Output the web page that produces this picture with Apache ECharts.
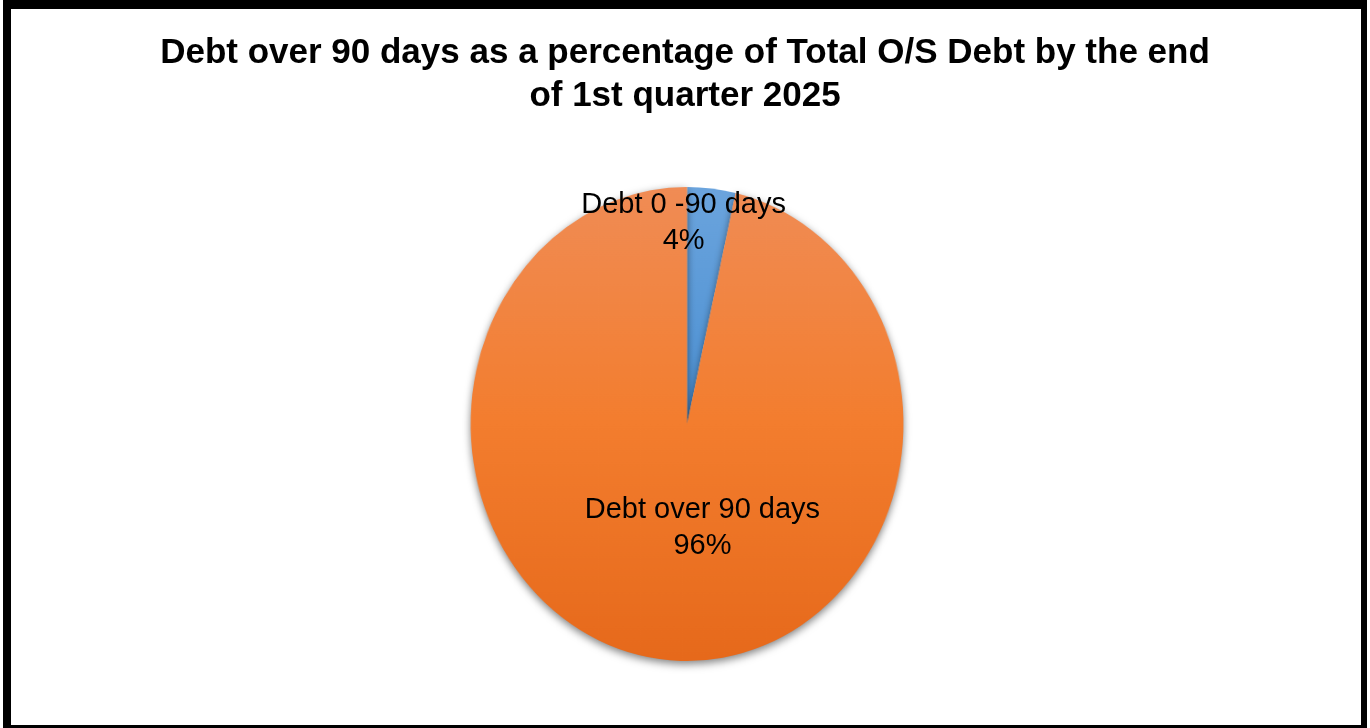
<!DOCTYPE html>
<html>
<head>
<meta charset="utf-8">
<script src="https://cdn.jsdelivr.net/npm/echarts@6/dist/echarts.min.js"></script>
<style>
  html, body { margin: 0; padding: 0; background: #fff; overflow: hidden; }
  #stage { position: relative; width: 1370px; height: 728px; overflow: hidden; background: #fff; }
  /* the pie is laid out wide, then condensed horizontally into an ellipse */
  #pie { position: absolute; left: 0; top: 0; width: 1505px; height: 728px;
         transform: scaleX(0.913); transform-origin: 0 0; }
  /* title and slice labels sit on an unscaled layer above */
  #text { position: absolute; left: 0; top: 0; width: 1370px; height: 728px; }
  #frame { position: absolute; left: 3px; top: 0; width: 1364px; height: 728px; box-sizing: border-box;
           border-style: solid; border-color: #000; border-width: 9px 6px 3px 8px; pointer-events: none; }
</style>
</head>
<body>
<div id="stage">
  <div id="pie"></div>
  <div id="text"></div>
  <div id="frame"></div>
</div>
<script>
const titleLines = [
  'Debt over 90 days as a percentage of Total O/S Debt by the end',
  'of 1st quarter 2025'
];
const categories = ['Debt 0 -90 days', 'Debt over 90 days'];
const values = [3.6, 96.4];

// label nudges from the default inside position, per slice
const labelShift = [[-16, -90], [28, -7]];

const FONT = 'Liberation Sans, Arial, sans-serif';

const fills = [
  new echarts.graphic.LinearGradient(0, 0, 0, 1, [
    { offset: 0, color: '#6ba4dd' }, { offset: 1, color: '#4a8fd2' }
  ]),
  new echarts.graphic.LinearGradient(0, 0, 0, 1, [
    { offset: 0, color: '#f08c55' }, { offset: 0.5, color: '#f37d2e' }, { offset: 1, color: '#e6691b' }
  ])
];

// filled slices
const pieChart = echarts.init(document.getElementById('pie'), null, { renderer: 'canvas' });
pieChart.setOption({
  animation: false,
  series: [{
    type: 'pie',
    center: ['50%', 424],
    radius: 237,
    startAngle: 90,
    clockwise: true,
    label: { show: false },
    labelLine: { show: false },
    data: categories.map((name, i) => ({
      name: name,
      value: values[i],
      itemStyle: {
        color: fills[i],
        borderWidth: 0,
        shadowBlur: i === 1 ? 9 : 0,
        shadowOffsetY: i === 1 ? 3 : 0,
        shadowColor: 'rgba(0,0,0,0.5)'
      }
    }))
  }]
});

// title and slice labels
const textChart = echarts.init(document.getElementById('text'), null, { renderer: 'canvas' });
textChart.setOption({
  animation: false,
  backgroundColor: 'transparent',
  title: titleLines.map((t, i) => ({
    text: t,
    left: 'center',
    top: 27 + i * 43,
    textStyle: { fontFamily: FONT, fontWeight: 'bold', fontSize: 35, lineHeight: 43, color: '#000' }
  })),
  series: [{
    type: 'pie',
    silent: true,
    center: [687, 424],
    radius: 217,
    startAngle: 90,
    clockwise: true,
    avoidLabelOverlap: false,
    itemStyle: { color: 'rgba(0,0,0,0)', borderWidth: 0 },
    label: {
      show: true,
      position: 'inside',
      formatter: p => p.name + '\n' + Math.round(p.percent) + '%',
      fontFamily: FONT,
      fontSize: 29,
      lineHeight: 36,
      color: '#000',
      align: 'center'
    },
    labelLine: { show: false },
    labelLayout: p => ({ dx: labelShift[p.dataIndex][0], dy: labelShift[p.dataIndex][1] }),
    data: categories.map((name, i) => ({ name: name, value: values[i] }))
  }]
});
</script>
</body>
</html>
